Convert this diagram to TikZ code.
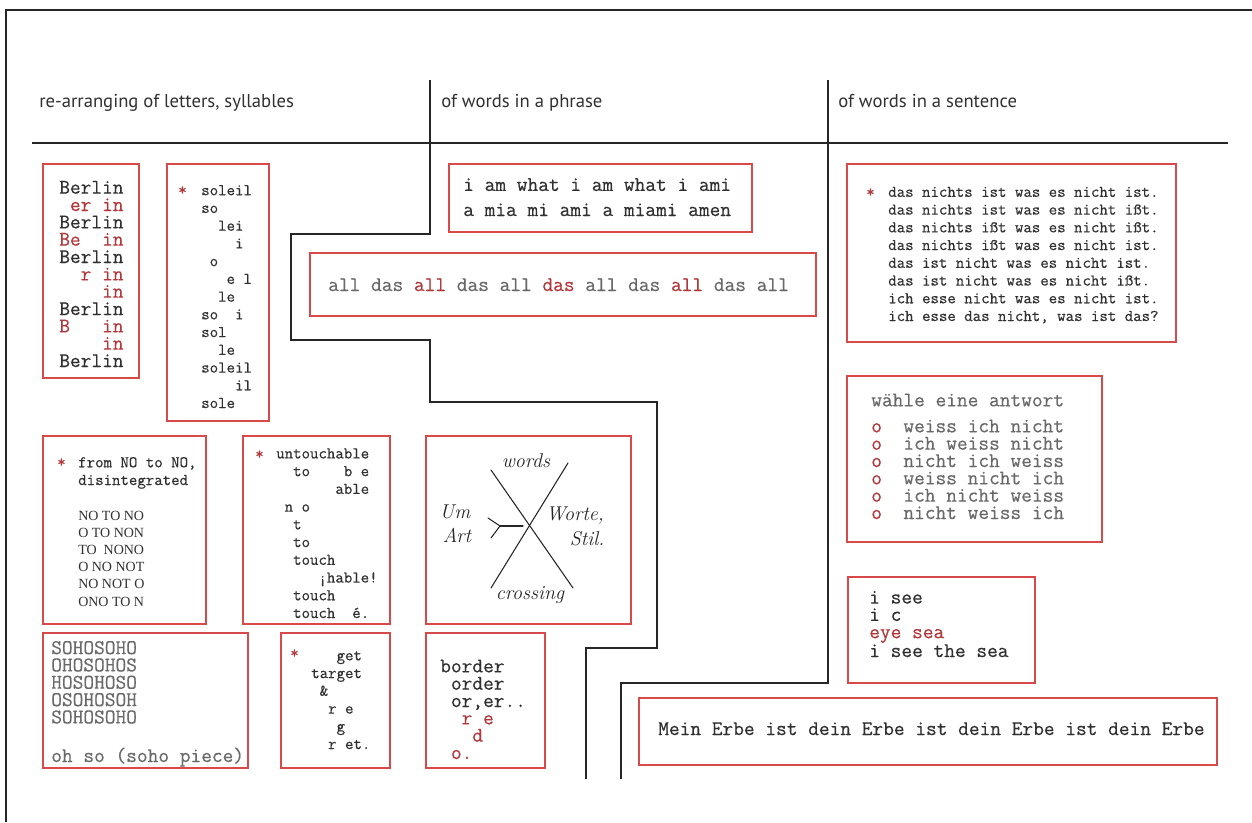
\documentclass[tikz,border=0pt]{standalone}
\usepackage{fontspec}
\setsansfont{PT Sans}
\setmonofont{Latin Modern Mono}[FakeBold=0.5]
\newfontfamily\narrowserif{Liberation Serif}
\definecolor{boxred}{RGB}{216,74,74}
\definecolor{inkred}{RGB}{178,56,60}
\definecolor{inkdark}{RGB}{48,48,48}
\definecolor{inkgray}{RGB}{105,105,105}
\newcommand{\inred}[1]{\textcolor{inkred}{#1}}
\newcommand{\indcol}[1]{\hspace*{#1\fontcharwd\font`x}}

\begin{document}
\begin{tikzpicture}[x=0.75pt,y=-0.75pt,
  frameline/.style={line width=1.5pt,black!85},
  divider/.style={line width=1.1pt,black!85},
  redbox/.style={draw=boxred,line width=1.1pt},
  handline/.style={line width=0.8pt,black!85,line cap=round},
  heading/.style={font=\sffamily\fontsize{14}{16}\selectfont,text=inkdark,anchor=base west,inner sep=0pt},
  textblock/.style={align=left,inner sep=0pt,anchor=base west,text=inkdark},
  bigtt/.style={textblock,font=\ttfamily\fontsize{15.6}{13}\selectfont\frenchspacing},
  smalltt/.style={textblock,font=\ttfamily\fontsize{12.3}{13.3}\selectfont\frenchspacing},
  hand/.style={font=\itshape\fontsize{15}{15}\selectfont,text=black!85}]
  \useasboundingbox (0,0) rectangle (1252,822);
  \draw[frameline] (6,822) -- (6,10) -- (1252,10);

  % headings and column lines
  \node[heading] (hletters) at (39,107) {re-arranging of letters, syllables};
  \node[heading] (hphrase) at (441,107) {of words in a phrase};
  \node[heading] (hsentence) at (838,107) {of words in a sentence};
  \draw[divider,line width=1.4pt] (32,143) -- (1228,143);
  \draw[divider] (430,80) -- (430,234) -- (291,234) -- (291,340) -- (430,340) -- (430,402)
    -- (657,402) -- (657,648) -- (586,648) -- (586,779);
  \draw[divider] (828,80) -- (828,683) -- (621,683) -- (621,779);

  % boxes
  \draw[redbox] (43,164) rectangle (139,378);
  \draw[redbox] (167,164) rectangle (269,421);
  \draw[redbox] (43,436) rectangle (206,624);
  \draw[redbox] (243,436) rectangle (390,624);
  \draw[redbox] (43,633) rectangle (248,768);
  \draw[redbox] (281,633) rectangle (390,768);
  \draw[redbox] (449,164) rectangle (752,232);
  \draw[redbox] (310,253) rectangle (816,316);
  \draw[redbox] (426,436) rectangle (631,624);
  \draw[redbox] (426,633) rectangle (545,768);
  \draw[redbox] (847,164) rectangle (1176,342);
  \draw[redbox] (847,376) rectangle (1102,542);
  \draw[redbox] (848,577) rectangle (1035,683);
  \draw[redbox] (639,698) rectangle (1217,765);

  % letters, syllables (multi-line nodes sit on their last line)
  \node[bigtt] (berlin) at (59,367) {Berlin\\ \inred{\indcol{1}er in}\\ Berlin\\ \inred{Be\indcol{2}in}\\
    Berlin\\ \inred{\indcol{2}r in}\\ \inred{\indcol{4}in}\\ Berlin\\ \inred{B\indcol{3}in}\\
    \inred{\indcol{4}in}\\ Berlin};
  \node[smalltt,text=inkred] (solstar) at (178,195) {*};
  \node[smalltt] (soleil) at (201,408) {soleil\\ so\\ \indcol{2}lei\\ \indcol{4}i\\ \indcol{1}o\\
    \indcol{3}e l\\ \indcol{2}le\\ so\indcol{2}i\\ sol\\ \indcol{2}le\\ soleil\\ \indcol{4}il\\ sole};
  \node[smalltt,text=inkred] (nostar) at (57,467) {*};
  \node[smalltt] (fromno) at (78,485) {from NO to NO,\\ disintegrated};
  \node[textblock,font=\narrowserif\fontsize{10.5}{12.9}\selectfont] (nolist) at (78,606)
    {NO TO NO\\ O TO NON\\ TO\ \ NONO\\ O NO NOT\\ NO NOT O\\ ONO TO N};
  \node[smalltt,text=inkred] (untstar) at (255,459) {*};
  \node[smalltt] (untouch) at (276,618) {untouchable\\ \indcol{2}to\indcol{4}b e\\ \indcol{7}able\\
    \indcol{1}n o\\ \indcol{2}t\\ \indcol{2}to\\ \indcol{2}touch\\ \indcol{5}¡hable!\\
    \indcol{2}touch\\ \indcol{2}touch\indcol{2}é.};
  \node[bigtt,text=inkgray] (soho) at (51,762) {SOHOSOHO\\ OHOSOHOS\\ HOSOHOSO\\ OSOHOSOH\\
    SOHOSOHO\\[16pt] oh so (soho piece)};
  \node[smalltt,text=inkred] (getstar) at (290,658) {*};
  \node[smalltt] (target) at (311,749) {\indcol{3}get\\ target\\ \indcol{1}\&\\ \indcol{2}r e\\
    \indcol{3}g\\ \indcol{2}r et.};

  % words in a phrase
  \node[bigtt] (iam) at (463,216) {i am what i am what i ami\\[5.8pt] a mia mi ami a miami amen};
  \node[bigtt,text=inkgray] (alldas) at (328,291)
    {all das \inred{all} das all \inred{das} all das \inred{all} das all};
  \draw[handline] (491,470) -- (573,588);
  \draw[handline] (568,463) -- (491,588);
  \draw[handline] (488,518) -- (500,526) -- (491,538);
  \draw[handline] (500,526) -- (523,526);
  \node[hand] (hwords) at (526,461) {words};
  \node[hand] (hum) at (455,512) {Um};
  \node[hand] (hart) at (457,535) {Art};
  \node[hand] (hworte) at (575,516) {Worte,};
  \node[hand] (hstil) at (587,539) {Stil.};
  \node[hand] (hcrossing) at (530,595) {crossing};
  \node[bigtt] (border) at (440,759) {border\\ \indcol{1}order\\ \indcol{1}or,er..\\
    \inred{\indcol{2}r e}\\ \inred{\indcol{3}d}\\ \inred{\indcol{1}o.}};

  % words in a sentence
  \node[smalltt,text=inkred] (nichtsstar) at (866,197) {*};
  \node[smalltt] (nichts) at (888,321) {das nichts ist was es nicht ist.\\
    das nichts ist was es nicht ißt.\\ das nichts ißt was es nicht ißt.\\
    das nichts ißt was es nicht ist.\\ das ist nicht was es nicht ist.\\
    das ist nicht was es nicht ißt.\\ ich esse nicht was es nicht ist.\\
    ich esse das nicht, was ist das?};
  \node[bigtt,text=inkgray] (waehle) at (871,519) {wähle eine antwort\\[6.5pt]
    \inred{o}\indcol{2}weiss ich nicht\\ \inred{o}\indcol{2}ich weiss nicht\\
    \inred{o}\indcol{2}nicht ich weiss\\ \inred{o}\indcol{2}weiss nicht ich\\
    \inred{o}\indcol{2}ich nicht weiss\\ \inred{o}\indcol{2}nicht weiss ich};
  \node[bigtt] (isee) at (869,657) {i see\\ i c\\ \inred{eye sea}\\ i see the sea};
  \node[bigtt] (erbe) at (658,735) {Mein Erbe ist dein Erbe ist dein Erbe ist dein Erbe};
\end{tikzpicture}
\end{document}
